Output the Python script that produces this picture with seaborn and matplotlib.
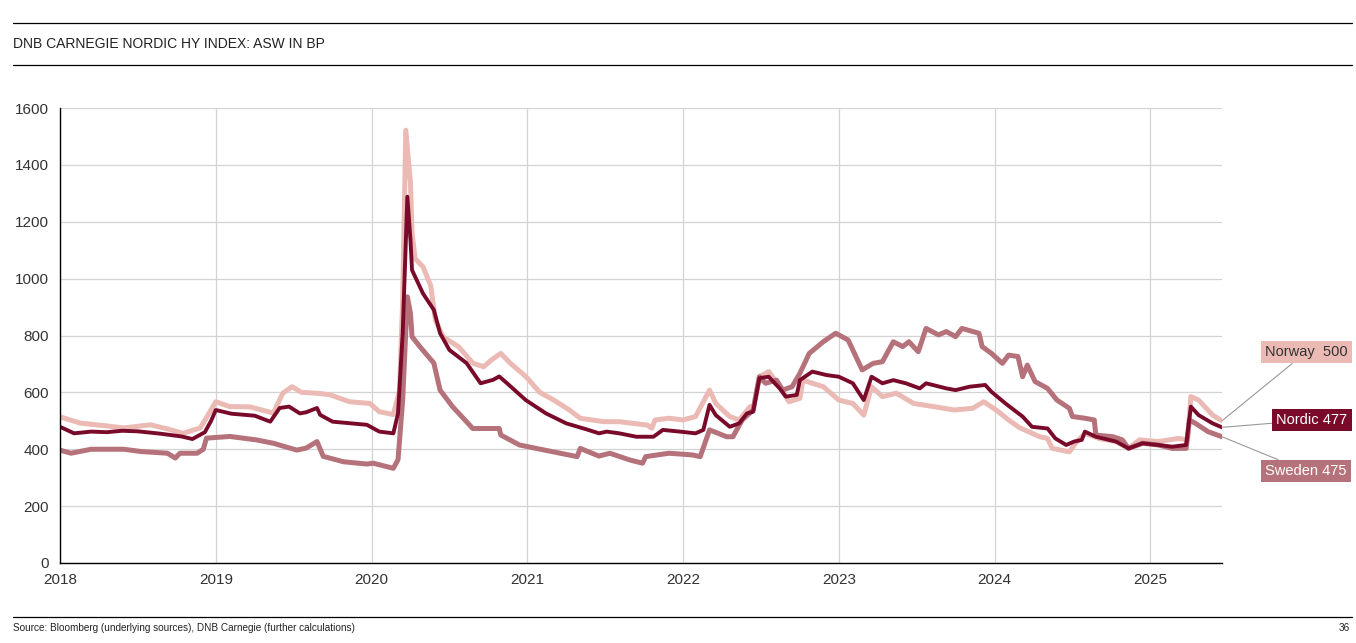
import numpy as np
import pandas as pd
import seaborn as sns
import matplotlib
matplotlib.use("Agg")
from matplotlib import pyplot as plt
from matplotlib.lines import Line2D

# ---- data (fractional years) ----
nordic_t = [2018.00, 2018.09, 2018.20, 2018.30, 2018.40, 2018.50, 2018.64, 2018.78, 2018.85, 2018.93,
            2018.97, 2019.00, 2019.10, 2019.25, 2019.35, 2019.41, 2019.47, 2019.54, 2019.58, 2019.65,
            2019.67, 2019.75, 2019.85, 2019.97, 2020.05, 2020.14, 2020.17, 2020.20, 2020.23, 2020.25,
            2020.26, 2020.29, 2020.33, 2020.40, 2020.44, 2020.50, 2020.61, 2020.70, 2020.78, 2020.82,
            2020.87, 2020.99, 2021.12, 2021.25, 2021.38, 2021.46, 2021.51, 2021.59, 2021.70, 2021.81,
            2021.87, 2021.98, 2022.08, 2022.13, 2022.17, 2022.21, 2022.30, 2022.36, 2022.41, 2022.45,
            2022.49, 2022.55, 2022.62, 2022.66, 2022.73, 2022.75, 2022.83, 2022.92, 2023.00, 2023.09,
            2023.16, 2023.21, 2023.28, 2023.35, 2023.43, 2023.52, 2023.56, 2023.69, 2023.75, 2023.84,
            2023.94, 2023.98, 2024.07, 2024.12, 2024.18, 2024.24, 2024.34, 2024.39, 2024.46, 2024.51,
            2024.56, 2024.58, 2024.65, 2024.78, 2024.86, 2024.95, 2025.05, 2025.14, 2025.23, 2025.26,
            2025.31, 2025.40, 2025.46]
nordic_v = [479, 456, 462, 460, 465, 463, 455, 445, 436, 460,
            500, 538, 525, 518, 497, 545, 550, 526, 530, 545,
            521, 497, 492, 486, 462, 456, 526, 808, 1288, 1136,
            1030, 995, 948, 890, 808, 749, 703, 632, 644, 656,
            632, 573, 526, 491, 470, 456, 462, 456, 444, 444,
            468, 462, 456, 468, 556, 520, 479, 491, 526, 532,
            650, 655, 614, 585, 591, 643, 673, 661, 655, 632,
            573, 655, 632, 643, 632, 614, 632, 614, 608, 620,
            626, 602, 561, 540, 515, 479, 473, 438, 415, 427,
            433, 462, 444, 427, 403, 421, 415, 409, 415, 550,
            520, 491, 477]

norway_t = [2018.00, 2018.13, 2018.30, 2018.41, 2018.58, 2018.70, 2018.79, 2018.90, 2018.95, 2019.00,
            2019.09, 2019.22, 2019.37, 2019.43, 2019.49, 2019.55, 2019.65, 2019.73, 2019.86, 2019.99,
            2020.05, 2020.14, 2020.18, 2020.20, 2020.22, 2020.25, 2020.26, 2020.28, 2020.33, 2020.38,
            2020.41, 2020.46, 2020.56, 2020.65, 2020.72, 2020.77, 2020.83, 2020.89, 2020.99, 2021.08,
            2021.17, 2021.27, 2021.34, 2021.49, 2021.59, 2021.77, 2021.80, 2021.82, 2021.91, 2022.00,
            2022.08, 2022.17, 2022.21, 2022.30, 2022.36, 2022.43, 2022.45, 2022.49, 2022.55, 2022.62,
            2022.68, 2022.75, 2022.77, 2022.83, 2022.90, 2023.00, 2023.09, 2023.16, 2023.21, 2023.28,
            2023.37, 2023.48, 2023.61, 2023.74, 2023.86, 2023.93, 2024.01, 2024.09, 2024.16, 2024.29,
            2024.34, 2024.37, 2024.48, 2024.52, 2024.58, 2024.67, 2024.78, 2024.86, 2024.93, 2025.05,
            2025.18, 2025.24, 2025.26, 2025.31, 2025.40, 2025.46]
norway_v = [514, 492, 482, 475, 486, 470, 456, 475, 520, 567,
            550, 549, 527, 597, 620, 600, 597, 592, 567, 561,
            532, 522, 608, 925, 1522, 1336, 1160, 1070, 1042, 975,
            854, 795, 760, 703, 690, 714, 737, 703, 656, 600,
            573, 538, 509, 497, 497, 485, 474, 503, 509, 503,
            515, 608, 561, 515, 503, 550, 538, 655, 673, 620,
            567, 579, 643, 632, 620, 573, 561, 520, 620, 585,
            597, 561, 550, 538, 544, 567, 538, 503, 476, 444,
            438, 403, 391, 421, 456, 438, 427, 403, 433, 427,
            438, 433, 585, 573, 520, 500]

sweden_t = [2018.00, 2018.07, 2018.20, 2018.41, 2018.52, 2018.69, 2018.74, 2018.77, 2018.88, 2018.92,
            2018.94, 2019.09, 2019.26, 2019.37, 2019.52, 2019.58, 2019.65, 2019.69, 2019.82, 2019.97,
            2020.01, 2020.14, 2020.17, 2020.20, 2020.23, 2020.25, 2020.26, 2020.31, 2020.40, 2020.44,
            2020.52, 2020.65, 2020.82, 2020.83, 2020.95, 2021.12, 2021.32, 2021.34, 2021.46, 2021.53,
            2021.66, 2021.74, 2021.76, 2021.91, 2022.06, 2022.11, 2022.17, 2022.28, 2022.32, 2022.38,
            2022.45, 2022.49, 2022.53, 2022.60, 2022.64, 2022.70, 2022.75, 2022.81, 2022.90, 2022.98,
            2023.06, 2023.12, 2023.15, 2023.22, 2023.28, 2023.35, 2023.41, 2023.45, 2023.51, 2023.56,
            2023.64, 2023.69, 2023.75, 2023.79, 2023.86, 2023.90, 2023.92, 2023.98, 2024.05, 2024.09,
            2024.15, 2024.18, 2024.21, 2024.26, 2024.34, 2024.40, 2024.48, 2024.50, 2024.58, 2024.64,
            2024.65, 2024.76, 2024.82, 2024.86, 2024.95, 2025.05, 2025.14, 2025.23, 2025.25, 2025.29,
            2025.37, 2025.46]
sweden_v = [397, 386, 400, 400, 392, 386, 369, 386, 386, 400,
            439, 445, 433, 421, 397, 404, 427, 375, 356, 348,
            351, 333, 363, 573, 936, 878, 796, 761, 703, 608,
            550, 473, 473, 450, 415, 396, 374, 403, 376, 386,
            362, 351, 374, 386, 380, 374, 468, 444, 444, 503,
            538, 655, 632, 643, 608, 620, 667, 737, 778, 808,
            784, 714, 679, 702, 708, 778, 761, 778, 743, 825,
            802, 814, 796, 825, 814, 808, 761, 737, 702, 731,
            726, 655, 696, 638, 614, 573, 544, 515, 509, 503,
            450, 444, 433, 403, 421, 415, 403, 403, 503, 491,
            462, 444]

years = list(range(2018, 2026))
y_ticks = list(range(0, 1601, 200))
end_labels = {"Norway": "Norway  500", "Nordic": "Nordic 477", "Sweden": "Sweden 475"}

c_nordic = "#7A0A2A"
c_norway = "#EBBAB4"
c_sweden = "#B5727B"

sns.set_style("white")
plt.rcParams["font.family"] = ["Liberation Sans", "DejaVu Sans"]

fig = plt.figure(figsize=(13.56, 6.43), dpi=100)
W, H = 1356, 643
ax = fig.add_axes([60 / W, 80 / H, 1162 / W, 455 / H])

sns.lineplot(x=norway_t, y=norway_v, ax=ax, color=c_norway, lw=3.6, sort=False, estimator=None)
sns.lineplot(x=sweden_t, y=sweden_v, ax=ax, color=c_sweden, lw=3.6, sort=False, estimator=None)
sns.lineplot(x=nordic_t, y=nordic_v, ax=ax, color=c_nordic, lw=2.8, sort=False, estimator=None)

ax.set_xlim(2018, 2025.46)
ax.set_ylim(0, 1600)
ax.set_xticks(years)
ax.set_xticklabels([str(y) for y in years])
ax.set_yticks(y_ticks)
ax.grid(True, color="#D3D3D3", lw=0.9)
ax.set_axisbelow(True)
for s in ["top", "right"]:
    ax.spines[s].set_visible(False)
for s in ["left", "bottom"]:
    ax.spines[s].set_color("black")
    ax.spines[s].set_linewidth(1.0)
ax.tick_params(axis="y", direction="out", length=5, color="black", labelsize=11, labelcolor="#333333", pad=3)
ax.tick_params(axis="x", direction="inout", length=7, color="black", labelsize=11, labelcolor="#333333", pad=4)
ax.set_xlabel("")
ax.set_ylabel("")

# end labels with leader lines
label_specs = [
    ("Norway", norway_t, norway_v, c_norway, "#333333", 1265, H - 352),
    ("Nordic", nordic_t, nordic_v, c_nordic, "white", 1276, H - 420),
    ("Sweden", sweden_t, sweden_v, c_sweden, "white", 1265, H - 471),
]
for name, t, v, fc, tc, px, py in label_specs:
    ax.annotate(end_labels[name], xy=(t[-1], v[-1]), xycoords="data",
                xytext=(px, py), textcoords="figure pixels",
                ha="left", va="center", fontsize=10.5, color=tc,
                bbox=dict(boxstyle="square,pad=0.3", fc=fc, ec="none"),
                arrowprops=dict(arrowstyle="-", color="#999999", lw=0.8, shrinkA=0, shrinkB=0),
                annotation_clip=False)

# header / footer rules and text
for yy in [23, 65, 617]:
    fig.add_artist(Line2D([13 / W, 1352 / W], [1 - yy / H, 1 - yy / H],
                          transform=fig.transFigure, color="black", lw=0.9))
fig.text(13 / W, 1 - 44 / H, "DNB CARNEGIE NORDIC HY INDEX: ASW IN BP", ha="left", va="center",
         fontsize=10, color="#222222")
fig.text(13 / W, 1 - 628 / H, "Source: Bloomberg (underlying sources), DNB Carnegie (further calculations)",
         ha="left", va="center", fontsize=7.2, color="#222222")
fig.text(1350 / W, 1 - 628 / H, "36", ha="right", va="center", fontsize=7.2, color="#222222")

fig.savefig("out.png", dpi=100)
